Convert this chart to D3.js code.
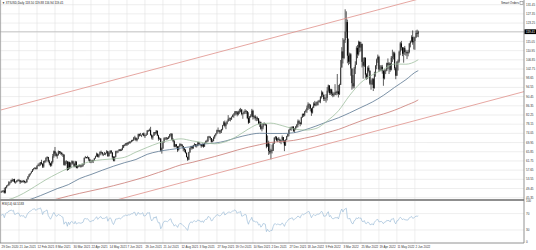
<!DOCTYPE html>
<html>
<head>
<meta charset="utf-8">
<script src="https://cdn.jsdelivr.net/npm/d3@7"></script>
<style>
  html, body { margin: 0; padding: 0; background: #fff; }
  svg { display: block; font-family: "Liberation Sans", Arial, sans-serif; }
</style>
</head>
<body>
<svg id="chart" width="536" height="250"></svg>
<script>
const symbol = "XTIUSD,Daily";
const firstDay = "2020-12-29";
const lastDay = "2022-06-07";
const closedDays = ["2021-01-01", "2021-04-02", "2021-12-24", "2022-04-15"];

// closes before the first visible bar, only used to start the RSI
const warmupCloses = [44.55, 45.28, 45.64, 46.26, 45.76, 45.60, 45.52, 46.78, 46.57, 46.99,
    47.62, 47.82, 48.36, 49.10, 47.74, 47.02, 48.12, 48.23, 47.62];

const closes = [
    48.00, 48.40, 48.52,
    47.62, 49.93, 50.63, 50.83, 52.24, 52.25, 53.21, 52.91, 53.57, 52.36, 52.40, 52.98, 53.24, 53.13, 52.27, 52.77, 52.61, 52.85, 52.34, 52.20,
    53.55, 54.76, 55.69, 56.23, 56.85, 57.97, 58.36, 58.68, 58.24, 59.47, 60.00, 60.05, 61.14, 60.52, 59.24, 61.70, 61.67, 63.22, 63.53, 61.50,
    60.64, 59.75, 61.28, 63.83, 66.09, 65.05, 64.01, 64.44, 66.02, 65.61, 65.39, 64.80, 64.60, 60.00, 61.42, 61.55, 57.76, 61.18, 58.56, 60.97, 61.56, 60.55, 59.16,
    61.45, 58.65, 59.33, 59.77, 59.60, 59.32, 59.70, 60.18, 63.15, 63.46, 63.13, 63.38, 62.44, 61.35, 61.43, 62.14, 61.91, 62.94, 63.86, 65.01, 63.58,
    64.49, 65.69, 65.63, 64.71, 64.90, 64.92, 65.28, 66.08, 63.82, 65.37, 66.27, 65.49, 63.36, 61.94, 63.58, 66.05, 66.07, 66.21, 66.85, 66.32, 66.80,
    67.72, 68.83, 68.81, 69.62, 69.23, 70.05, 69.96, 70.29, 70.91, 70.88, 72.12, 72.15, 71.04, 71.64, 73.66, 73.06, 73.08, 73.30, 74.05, 72.91, 72.98, 73.47,
    75.23, 75.16, 75.50, 73.37, 72.20, 72.94, 74.56, 74.10, 75.25, 73.13, 71.65, 71.81, 66.42, 67.42, 70.30, 71.91, 72.07, 71.91, 71.65, 72.39, 73.62, 73.95,
    71.26, 70.56, 68.15, 69.09, 68.28, 66.48, 68.29, 69.25, 69.09, 68.44, 67.29, 66.59, 65.46, 63.50, 62.32, 65.64, 67.54, 68.36, 67.42, 68.74, 69.21, 68.50,
    68.59, 69.99, 69.29, 69.30, 68.35, 69.30, 68.14, 69.72, 70.45, 70.46, 72.61, 72.61, 71.97, 70.29, 70.56, 72.23, 73.30, 73.98, 75.45, 75.29, 74.83, 75.03,
    75.88, 77.62, 78.93, 77.43, 78.30, 79.35, 80.52, 80.64, 80.44, 81.31, 82.28, 82.44, 83.87, 83.42, 82.50, 83.76, 83.76, 84.65, 82.66, 82.81, 83.57,
    84.05, 83.91, 80.86, 78.81, 81.27, 81.93, 84.15, 81.34, 81.59, 80.79, 80.88, 80.76, 78.36, 79.01, 76.10, 76.75, 78.50, 78.39, 78.00, 68.15, 69.95, 66.18,
    65.57, 66.50, 66.26, 69.49, 72.05, 72.36, 70.94, 71.67, 71.29, 70.73, 70.87, 72.38, 70.86, 68.61, 71.12, 72.76, 73.79, 75.57, 75.98, 76.56, 76.99, 75.21,
    76.08, 76.99, 77.85, 79.46, 78.90, 78.23, 81.22, 82.64, 82.12, 83.82, 84.30, 85.43, 86.96, 86.90, 85.14, 83.31, 85.60, 87.35, 86.61, 86.82, 88.15,
    88.20, 88.26, 90.27, 92.31, 91.32, 89.36, 89.66, 89.88, 93.10, 95.46, 92.07, 93.66, 91.76, 91.07, 91.20, 92.35, 92.10, 92.81, 91.59, 95.72,
    103.41, 110.60, 107.67, 115.68, 119.40, 123.70, 108.70, 106.02, 109.33, 103.01, 96.44, 95.04, 102.98, 104.70, 112.12, 109.27, 114.93, 112.34, 113.90, 105.96, 104.24, 107.82, 100.28,
    99.27, 103.28, 101.96, 96.23, 96.03, 98.26, 94.29, 100.60, 104.25, 106.95, 108.21, 102.56, 102.75, 103.79, 102.07, 98.54, 101.70, 102.02, 105.36, 104.69,
    105.17, 102.41, 107.81, 108.26, 109.77, 103.09, 99.76, 105.71, 106.13, 110.49, 114.20, 112.40, 109.59, 112.21, 110.28, 110.29, 109.77, 110.33, 114.09, 115.07, 117.00, 114.67,
    115.26, 116.87, 118.87, 118.50, 119.41
];

const highs = [
    48.36, 48.58, 48.64,
    49.83, 50.20, 50.94, 51.28, 52.75, 52.50, 53.40, 53.93, 53.71, 53.80, 52.70, 53.12, 53.53, 53.75, 53.12, 53.07, 53.09, 53.21, 53.03, 52.64,
    53.82, 55.00, 55.95, 56.33, 57.29, 58.10, 58.62, 58.91, 58.84, 59.82, 60.60, 60.95, 61.28, 62.26, 60.72, 61.81, 62.13, 63.30, 63.81, 63.47,
    62.22, 60.96, 61.74, 64.86, 66.40, 67.98, 65.60, 64.90, 66.40, 66.14, 66.12, 65.68, 65.05, 64.66, 61.78, 62.09, 61.62, 61.50, 61.44, 61.05, 61.97, 61.90, 60.66,
    61.79, 61.60, 59.89, 60.04, 60.20, 59.92, 60.53, 60.68, 63.23, 63.98, 63.52, 64.05, 63.50, 62.68, 61.92, 62.32, 62.28, 63.13, 64.08, 65.47, 65.00,
    64.68, 66.04, 66.35, 65.71, 65.08, 65.75, 65.43, 66.61, 65.90, 65.55, 66.48, 66.61, 65.66, 63.93, 63.85, 66.30, 66.34, 66.45, 67.02, 67.01, 67.30,
    68.87, 69.00, 69.40, 69.76, 70.00, 70.16, 70.62, 70.53, 71.16, 71.26, 72.46, 72.99, 71.95, 71.86, 73.92, 73.96, 74.25, 73.52, 74.22, 74.45, 73.35, 74.07,
    75.55, 75.66, 76.20, 76.98, 73.65, 73.12, 74.66, 74.53, 75.52, 75.10, 73.44, 72.30, 71.27, 67.73, 70.55, 72.29, 72.28, 72.44, 72.25, 72.86, 73.78, 74.04,
    73.84, 71.83, 71.07, 69.32, 69.35, 68.05, 68.50, 69.64, 69.49, 69.18, 68.14, 67.56, 67.10, 65.36, 63.74, 65.79, 67.78, 68.48, 68.47, 68.90, 69.69, 69.21,
    69.30, 70.28, 70.20, 69.60, 69.36, 69.56, 69.49, 69.96, 70.84, 71.22, 72.79, 72.95, 72.63, 71.62, 71.42, 72.63, 73.45, 74.10, 75.72, 76.67, 75.58, 75.64,
    76.05, 77.82, 79.48, 79.78, 78.85, 79.78, 82.18, 81.09, 81.06, 81.64, 82.49, 83.08, 83.95, 83.87, 84.00, 84.18, 85.00, 85.41, 84.90, 83.19, 84.20,
    84.87, 84.47, 83.99, 83.45, 81.80, 82.59, 84.97, 84.58, 82.00, 82.29, 81.56, 81.52, 80.44, 79.70, 79.30, 77.30, 78.71, 78.97, 78.40, 77.80, 73.10, 70.80,
    69.33, 67.17, 69.02, 69.96, 72.38, 72.87, 72.79, 72.01, 72.45, 71.63, 71.05, 73.09, 72.10, 70.23, 71.41, 72.96, 73.90, 75.86, 76.92, 77.05, 77.21, 77.28,
    76.47, 77.36, 78.27, 80.24, 80.09, 78.99, 81.47, 82.90, 83.00, 84.05, 84.75, 86.43, 87.91, 87.43, 86.87, 85.30, 85.98, 87.95, 88.54, 88.02, 88.30,
    88.84, 89.08, 90.66, 93.17, 92.73, 91.36, 90.25, 91.57, 94.66, 95.82, 95.37, 93.97, 93.94, 92.66, 92.31, 96.00, 93.11, 100.54, 95.64, 96.18,
    106.78, 112.51, 116.57, 116.00, 129.40, 128.50, 124.79, 116.33, 110.07, 109.86, 102.38, 100.08, 103.67, 106.20, 112.89, 113.51, 115.40, 114.35, 114.86, 114.17, 107.82, 108.03, 107.10,
    100.87, 103.96, 104.42, 102.18, 97.73, 98.78, 98.80, 101.54, 104.44, 107.43, 109.20, 108.69, 104.46, 104.48, 104.59, 102.05, 102.60, 102.64, 105.60, 107.47,
    105.89, 105.45, 108.57, 111.37, 110.47, 110.47, 103.63, 106.27, 107.00, 110.96, 114.80, 115.30, 112.50, 112.50, 113.05, 111.38, 111.00, 111.35, 114.34, 115.44, 117.80, 119.98,
    117.21, 117.14, 120.00, 120.33, 119.88
];

const lows = [
    47.50, 47.76, 47.64,
    47.18, 47.26, 49.52, 50.39, 50.81, 51.28, 51.88, 52.47, 52.40, 51.83, 51.60, 52.12, 52.53, 52.70, 51.48, 51.98, 52.12, 52.10, 51.74, 51.77,
    52.17, 53.53, 54.48, 55.25, 56.19, 56.96, 57.51, 58.11, 57.89, 57.98, 59.40, 59.30, 59.60, 60.10, 58.59, 58.70, 60.78, 61.09, 62.81, 61.10,
    59.80, 59.14, 59.34, 60.60, 63.17, 64.10, 63.58, 62.78, 64.10, 64.88, 64.56, 64.10, 63.52, 59.64, 59.60, 60.34, 57.32, 57.92, 58.10, 58.49, 60.12, 60.10, 58.86,
    59.05, 58.42, 58.37, 58.86, 58.98, 58.76, 58.99, 59.20, 60.14, 62.86, 62.84, 62.87, 61.73, 60.84, 60.73, 60.98, 60.81, 61.90, 62.78, 63.62, 63.35,
    63.17, 64.18, 65.09, 64.17, 63.92, 64.39, 64.29, 65.02, 63.65, 63.81, 64.82, 64.98, 62.37, 61.56, 61.56, 63.30, 65.12, 65.26, 66.05, 66.08, 66.20,
    66.51, 67.45, 68.31, 68.53, 68.42, 68.86, 69.40, 69.51, 70.03, 70.40, 70.78, 71.21, 70.55, 70.45, 71.40, 72.59, 72.96, 72.40, 73.25, 72.72, 71.99, 72.90,
    73.37, 74.80, 75.00, 73.00, 71.38, 71.20, 72.89, 73.28, 73.88, 72.81, 70.76, 71.10, 65.97, 65.01, 67.08, 69.80, 71.10, 71.01, 71.22, 71.51, 72.08, 72.76,
    71.03, 70.09, 67.80, 67.83, 67.57, 65.72, 66.52, 67.90, 68.31, 67.82, 66.11, 65.68, 65.05, 63.30, 61.74, 62.20, 65.36, 66.76, 66.92, 67.17, 68.59, 67.87,
    67.73, 68.29, 68.87, 68.70, 67.64, 68.04, 67.62, 68.06, 69.55, 69.94, 70.36, 72.09, 71.20, 69.93, 70.05, 70.60, 71.62, 72.77, 73.70, 74.58, 73.88, 73.93,
    74.20, 75.44, 77.42, 76.72, 75.92, 78.05, 79.60, 79.58, 79.39, 80.01, 81.28, 81.01, 81.87, 82.40, 81.65, 82.11, 82.78, 83.41, 82.09, 80.56, 82.56,
    82.75, 82.72, 80.37, 78.25, 78.71, 81.04, 81.49, 80.22, 80.64, 79.77, 79.48, 79.68, 78.10, 76.90, 75.66, 74.95, 75.85, 77.60, 77.40, 67.40, 68.52, 64.43,
    64.79, 62.43, 65.07, 66.58, 69.53, 71.26, 70.47, 70.15, 70.82, 69.73, 69.22, 70.83, 69.61, 66.12, 68.49, 70.92, 72.39, 72.76, 75.42, 75.18, 75.88, 74.70,
    74.33, 75.50, 76.47, 76.75, 78.08, 77.22, 77.93, 81.02, 81.37, 81.67, 83.38, 83.20, 84.46, 84.92, 83.88, 81.85, 82.88, 85.31, 86.26, 86.13, 86.41,
    86.55, 87.79, 87.49, 89.60, 90.30, 88.51, 88.50, 87.78, 88.70, 92.28, 91.19, 91.26, 90.78, 90.17, 90.40, 91.38, 91.01, 91.29, 90.06, 91.16,
    95.63, 103.44, 105.24, 107.16, 114.39, 116.60, 105.33, 104.48, 105.00, 99.76, 93.53, 94.10, 94.11, 100.51, 104.86, 107.58, 108.70, 110.25, 110.65, 103.46, 98.44, 103.65, 98.46,
    97.98, 98.25, 101.22, 95.61, 93.53, 95.62, 92.93, 93.98, 99.32, 102.67, 105.52, 101.42, 101.84, 101.76, 100.67, 95.28, 98.11, 100.49, 101.78, 102.71,
    100.53, 101.49, 102.13, 105.92, 107.03, 102.21, 98.20, 99.84, 102.08, 105.55, 108.87, 111.02, 108.51, 105.58, 109.04, 108.66, 107.20, 108.42, 109.73, 112.40, 114.60, 113.60,
    111.48, 111.32, 116.54, 117.12, 116.94
];

// moving averages read at every tenth bar
const maBars = [0, 10, 20, 30, 40, 50, 60, 70, 80, 90, 100, 110, 120, 130, 140, 150, 160, 170, 180, 190,
    200, 210, 220, 230, 240, 250, 260, 270, 280, 290, 300, 310, 320, 330, 340, 350, 360, 370, 371];
const ma50 = [43.8, 45.0, 47.3, 50.3, 53.4, 56.1, 58.5, 60.0, 61.6, 62.3, 62.7, 63.4, 65.7, 67.8, 69.7, 70.9, 71.6, 70.7, 69.9, 69.4,
    70.4, 72.8, 76.0, 78.3, 78.6, 77.5, 76.1, 75.5, 76.2, 79.6, 84.1, 91.0, 96.7, 100.1, 102.6, 105.0, 104.9, 106.6, 106.9];
const ma100 = [42.0, 42.8, 43.7, 45.3, 47.3, 49.4, 51.2, 53.9, 55.7, 57.6, 59.4, 61.0, 62.4, 64.7, 66.0, 66.8, 67.5, 68.2, 69.3, 69.7,
    70.7, 72.2, 73.4, 74.1, 74.0, 74.0, 74.3, 75.6, 77.3, 79.2, 81.0, 83.2, 85.6, 88.0, 91.0, 94.6, 98.0, 101.8, 102.0];
const ma200 = [36.8, 37.9, 39.4, 41.5, 43.4, 44.8, 46.1, 47.3, 48.4, 49.5, 50.7, 52.0, 53.4, 54.9, 56.6, 58.3, 60.0, 61.1, 62.4, 63.7,
    65.1, 66.6, 67.9, 69.0, 70.0, 70.4, 70.9, 71.9, 73.0, 74.4, 75.8, 77.7, 79.6, 81.3, 82.7, 84.4, 86.5, 88.7, 89.0];

// channel lines: [bar, price] at each end
const trendLines = [
    [[0, 84.5], [400, 137.8]],
    [[104, 44.5], [466, 92.8]]
];

const priceTicks = [131.45, 127.35, 123.25, 119.15, 115.05, 110.95, 106.85, 102.75, 98.65, 94.55, 90.45,
    86.35, 82.25, 78.15, 74.05, 69.95, 65.85, 61.75, 57.65, 53.55, 49.45, 45.35];
const rsiTicks = [100, 70, 30, 0];
const rsiLevels = [70, 30];
const dateTicks = ["29 Dec 2020", "21 Jan 2021", "12 Feb 2021", "8 Mar 2021", "30 Mar 2021", "22 Apr 2021",
    "14 May 2021", "7 Jun 2021", "29 Jun 2021", "21 Jul 2021", "12 Aug 2021", "3 Sep 2021", "27 Sep 2021",
    "19 Oct 2021", "10 Nov 2021", "2 Dec 2021", "27 Dec 2021", "18 Jan 2022", "9 Feb 2022", "3 Mar 2022",
    "25 Mar 2022", "19 Apr 2022", "11 May 2022", "2 Jun 2022"];

const W = 536, H = 250;
const plotRight = 524;
const mainBottom = 199;
const rsiTop = 201, rsiBottom = 243;

const parseDay = d3.timeParse("%Y-%m-%d");
const dayKey = d3.timeFormat("%Y-%m-%d");
const labelFmt = d3.timeFormat("%-d %b %Y");
const closed = new Set(closedDays);
const dates = d3.timeDays(parseDay(firstDay), d3.timeDay.offset(parseDay(lastDay), 1))
    .filter(d => d.getDay() !== 0 && d.getDay() !== 6 && !closed.has(dayKey(d)));
const n = Math.min(dates.length, closes.length, highs.length, lows.length);
if (dates.length !== closes.length || highs.length !== closes.length || lows.length !== closes.length) {
    console.warn("length mismatch", dates.length, closes.length, highs.length, lows.length);
}

const bars = d3.range(n).map(i => {
    const open = i ? closes[i - 1] : warmupCloses[warmupCloses.length - 1];
    const close = closes[i];
    return {
        i, open, close,
        high: Math.max(highs[i], open, close),
        low: Math.min(lows[i], open, close)
    };
});

// Wilder RSI(14)
const period = 14;
const allCloses = warmupCloses.concat(closes.slice(0, n));
const rsiAll = [];
let avgGain = 0, avgLoss = 0;
for (let i = 1; i <= period; i++) {
    const ch = allCloses[i] - allCloses[i - 1];
    if (ch > 0) avgGain += ch; else avgLoss -= ch;
}
avgGain /= period;
avgLoss /= period;
rsiAll[period] = 100 - 100 / (1 + avgGain / avgLoss);
for (let i = period + 1; i < allCloses.length; i++) {
    const ch = allCloses[i] - allCloses[i - 1];
    avgGain = (avgGain * (period - 1) + Math.max(ch, 0)) / period;
    avgLoss = (avgLoss * (period - 1) + Math.max(-ch, 0)) / period;
    rsiAll[i] = avgLoss === 0 ? 100 : 100 - 100 / (1 + avgGain / avgLoss);
}
const rsi = d3.range(n).map(i => rsiAll[i + warmupCloses.length]);

const x = d3.scaleLinear().domain([0, 465]).range([1, plotRight]);
const y = d3.scaleLinear().domain([45.35, 131.45]).range([197.7, 4.7]);
const yRsi = d3.scaleLinear().domain([0, 100]).range([242.3, 201.3]);

const svg = d3.select("#chart");
const defs = svg.append("defs");
defs.append("clipPath").attr("id", "clip-main")
    .append("rect").attr("x", 0).attr("y", 0).attr("width", plotRight).attr("height", mainBottom);
defs.append("clipPath").attr("id", "clip-rsi")
    .append("rect").attr("x", 0).attr("y", rsiTop).attr("width", plotRight).attr("height", rsiBottom - rsiTop);

svg.append("rect").attr("width", W).attr("height", H).attr("fill", "#fff");

const tickIndex = dateTicks.map(label => dates.findIndex(d => labelFmt(d) === label)).filter(i => i >= 0);

// grid
const grid = svg.append("g").attr("stroke", "#e3e3e3").attr("stroke-width", 0.6);
grid.selectAll(".hgrid")
    .data(priceTicks)
    .join("line")
    .attr("class", "hgrid")
    .attr("x1", 0).attr("x2", plotRight)
    .attr("y1", d => y(d)).attr("y2", d => y(d));
grid.selectAll(".vgrid")
    .data(tickIndex)
    .join("line")
    .attr("class", "vgrid")
    .attr("x1", d => x(d)).attr("x2", d => x(d))
    .attr("y1", 0).attr("y2", mainBottom);
grid.selectAll(".vgrid-rsi")
    .data(tickIndex)
    .join("line")
    .attr("class", "vgrid-rsi")
    .attr("x1", d => x(d)).attr("x2", d => x(d))
    .attr("y1", rsiTop).attr("y2", rsiBottom);
grid.selectAll(".rsi-level")
    .data(rsiLevels)
    .join("line")
    .attr("class", "rsi-level")
    .attr("x1", 0).attr("x2", plotRight)
    .attr("y1", d => yRsi(d)).attr("y2", d => yRsi(d));

const last = bars[bars.length - 1];

const main = svg.append("g").attr("clip-path", "url(#clip-main)");

// current price line
main.append("line")
    .attr("x1", 0).attr("x2", plotRight)
    .attr("y1", y(last.close)).attr("y2", y(last.close))
    .attr("stroke", "#b8b8b8").attr("stroke-width", 0.7);

// candles
main.append("g").selectAll("line")
    .data(bars)
    .join("line")
    .attr("x1", d => x(d.i)).attr("x2", d => x(d.i))
    .attr("y1", d => y(d.high)).attr("y2", d => y(d.low))
    .attr("stroke", "#1a1a1a").attr("stroke-width", 0.7);
main.append("g").selectAll("rect")
    .data(bars)
    .join("rect")
    .attr("x", d => x(d.i) - 0.5)
    .attr("width", 1)
    .attr("y", d => y(Math.max(d.open, d.close)))
    .attr("height", d => Math.max(0.5, Math.abs(y(d.open) - y(d.close))))
    .attr("fill", d => d.close >= d.open ? "#3a3a3a" : "#000");

// moving averages
const maLine = d3.line().x(d => x(d[0])).y(d => y(d[1])).curve(d3.curveMonotoneX);
const maSeries = [
    { values: ma200, color: "#c97a74" },
    { values: ma100, color: "#5b7691" },
    { values: ma50, color: "#9fbf9f" }
];
main.selectAll(".ma")
    .data(maSeries)
    .join("path")
    .attr("class", "ma")
    .attr("d", s => maLine(maBars.map((b, i) => [b, s.values[i]])))
    .attr("fill", "none")
    .attr("stroke", s => s.color)
    .attr("stroke-width", 0.8);

// channel
main.selectAll(".trend")
    .data(trendLines)
    .join("line")
    .attr("class", "trend")
    .attr("x1", d => x(d[0][0])).attr("y1", d => y(d[0][1]))
    .attr("x2", d => x(d[1][0])).attr("y2", d => y(d[1][1]))
    .attr("stroke", "#e0908a").attr("stroke-width", 0.8);

// RSI
svg.append("g").attr("clip-path", "url(#clip-rsi)")
    .append("path")
    .datum(rsi)
    .attr("d", d3.line().x((d, i) => x(i)).y(d => yRsi(d)))
    .attr("fill", "none")
    .attr("stroke", "#9dbdd9")
    .attr("stroke-width", 0.7);

// frame, separator, axes
svg.append("line").attr("x1", 0.4).attr("x2", 0.4).attr("y1", 0).attr("y2", rsiBottom)
    .attr("stroke", "#9a9a9a").attr("stroke-width", 0.8);
svg.append("rect").attr("x", 0).attr("y", mainBottom).attr("width", plotRight).attr("height", rsiTop - mainBottom)
    .attr("fill", "#8f8f8f");
svg.append("line").attr("x1", plotRight).attr("x2", plotRight).attr("y1", 0).attr("y2", rsiBottom)
    .attr("stroke", "#777").attr("stroke-width", 0.8);
svg.append("line").attr("x1", 0).attr("x2", plotRight).attr("y1", rsiBottom).attr("y2", rsiBottom)
    .attr("stroke", "#777").attr("stroke-width", 0.8);

const axisFont = 3;
svg.append("g").selectAll("text")
    .data(priceTicks)
    .join("text")
    .attr("x", plotRight + 2)
    .attr("y", d => y(d))
    .attr("dy", "0.35em")
    .attr("font-size", axisFont)
    .attr("fill", "#333")
    .text(d => d.toFixed(2));
svg.append("g").selectAll("text")
    .data(rsiTicks)
    .join("text")
    .attr("x", plotRight + 2)
    .attr("y", d => yRsi(d))
    .attr("dy", "0.35em")
    .attr("font-size", axisFont)
    .attr("fill", "#333")
    .text(d => d);
svg.append("g").selectAll("text")
    .data(tickIndex)
    .join("text")
    .attr("x", d => x(d) + 0.5)
    .attr("y", 248)
    .attr("font-size", axisFont)
    .attr("fill", "#333")
    .text(d => labelFmt(dates[d]));

// last price tag
svg.append("rect")
    .attr("x", plotRight + 0.5).attr("y", y(last.close) - 2.4)
    .attr("width", W - plotRight - 0.5).attr("height", 4.8)
    .attr("fill", "#000");
svg.append("text")
    .attr("x", plotRight + 2).attr("y", y(last.close)).attr("dy", "0.35em")
    .attr("font-size", axisFont).attr("fill", "#fff")
    .text(last.close.toFixed(2));

// titles
svg.append("text")
    .attr("x", 2).attr("y", 4)
    .attr("font-size", 3).attr("fill", "#222")
    .text(`\u25BC ${symbol}  ${last.open.toFixed(2)} ${last.high.toFixed(2)} ${last.low.toFixed(2)} ${last.close.toFixed(2)}`);
svg.append("text")
    .attr("x", 2).attr("y", rsiTop + 3.6)
    .attr("font-size", 3).attr("fill", "#222")
    .text(`RSI(14) ${rsi[rsi.length - 1].toFixed(4)}`);
svg.append("text")
    .attr("x", 519).attr("y", 4)
    .attr("text-anchor", "end")
    .attr("font-size", 3).attr("fill", "#222")
    .text("Smart Orders");
svg.append("rect")
    .attr("x", 520).attr("y", 1.3).attr("width", 3).attr("height", 3)
    .attr("fill", "none").attr("stroke", "#555").attr("stroke-width", 0.4);
</script>
</body>
</html>
